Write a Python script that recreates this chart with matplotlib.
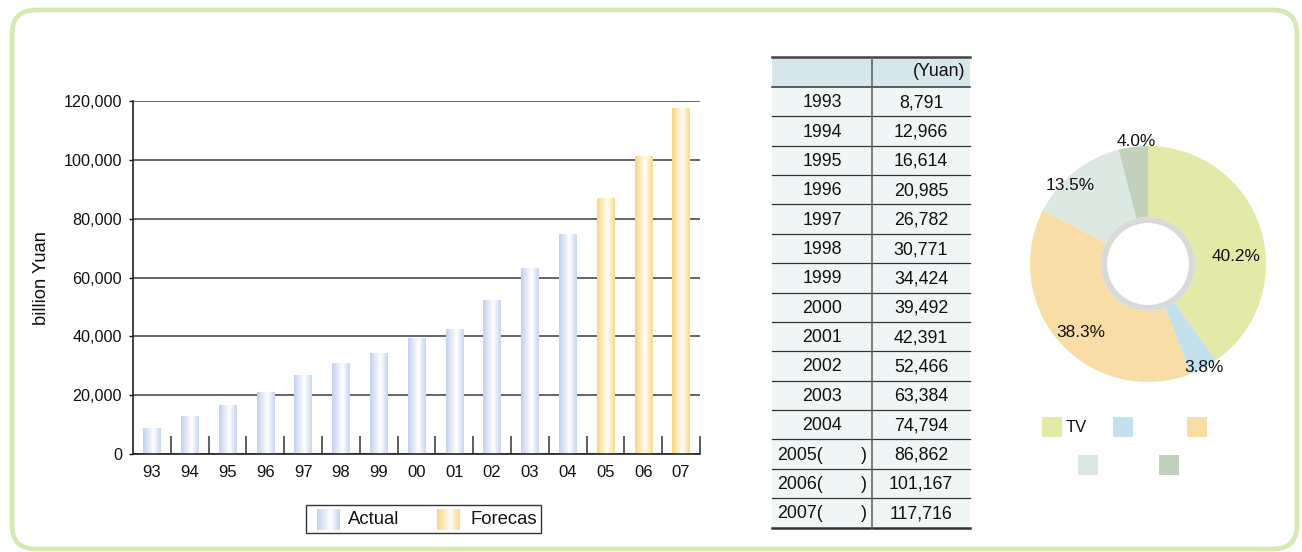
import numpy as np
import matplotlib
matplotlib.use("Agg")
import matplotlib.pyplot as plt
from matplotlib.patches import Rectangle, FancyBboxPatch, Circle
from matplotlib.colors import LinearSegmentedColormap

# ---- data ----
year_labels = ["93", "94", "95", "96", "97", "98", "99", "00",
               "01", "02", "03", "04", "05", "06", "07"]
table_years = ["1993", "1994", "1995", "1996", "1997", "1998", "1999", "2000",
               "2001", "2002", "2003", "2004", "2005(", "2006(", "2007("]
values = [8791, 12966, 16614, 20985, 26782, 30771, 34424, 39492,
          42391, 52466, 63384, 74794, 86862, 101167, 117716]
is_forecast = [False] * 12 + [True] * 3
y_ticks = [0, 20000, 40000, 60000, 80000, 100000, 120000]
legend_labels = ["Actual", "Forecas"]
table_unit = "(Yuan)"

share_pct = [40.2, 3.8, 38.3, 13.5, 4.0]
share_colors = ["#e3e9a7", "#c3e1ed", "#f8dda7", "#dce9e3", "#c0d2bb"]
share_names = ["TV", "", "", "", ""]

# ---- figure ----
W, H = 1302, 552
plt.rcParams["font.family"] = ["Liberation Sans", "DejaVu Sans"]
fig = plt.figure(figsize=(W / 100, H / 100), dpi=100)
fig.patch.set_facecolor("white")

TXT = "#111111"
TABLE_FS = 12.8


def px_axes(x0, y0, x1, y1, **kw):
    """Axes placed by pixel box (origin at top-left)."""
    return fig.add_axes([x0 / W, 1 - y1 / H, (x1 - x0) / W, (y1 - y0) / H], **kw)


# overlay for frame, table and legends
ov = px_axes(0, 0, W, H)
ov.set_zorder(0)
ov.axis("off")

blue_cmap = LinearSegmentedColormap.from_list(
    "actual", [(0, "#c2d0ee"), (0.58, "#ffffff"), (1, "#c7d5f0")])
gold_cmap = LinearSegmentedColormap.from_list(
    "forecast", [(0, "#f8d683"), (0.58, "#fffdf6"), (1, "#f9d98c")])
grad = np.linspace(0, 1, 256).reshape(1, -1)

# rounded frame
ov.add_patch(FancyBboxPatch((12, 10), 1285, 539,
                            boxstyle="round,pad=0,rounding_size=24",
                            fc="none", ec="#d6e9b3", lw=3.4))

# ---- bar chart ----
ax = px_axes(133, 101, 700, 454)
ax.set_zorder(1)
ax.patch.set_alpha(0)
x = np.arange(len(values))
bars = ax.bar(x, values, width=0.46, color="none", lw=0, zorder=2)
for bar, fc in zip(bars, is_forecast):
    x0 = bar.get_x()
    im = ax.imshow(grad, extent=[x0, x0 + bar.get_width(), 0, bar.get_height()],
                   cmap=gold_cmap if fc else blue_cmap, aspect="auto", zorder=2)
    im.set_clip_path(bar)
ax.set_aspect("auto")
ax.set_xlim(-0.5, len(values) - 0.5)
ax.set_ylim(0, 120000)

ax.set_yticks(y_ticks, [f"{v:,}" for v in y_ticks])
ax.yaxis.grid(True, color="#3c3c3c", lw=1.1)
ax.set_axisbelow(True)
ax.set_xticks(x, year_labels)
ax.set_xticks(np.arange(0.5, len(values), 1), minor=True)
ax.tick_params(axis="x", which="major", length=0, pad=8, labelsize=12, colors=TXT)
ax.tick_params(axis="x", which="minor", direction="in", length=13, width=1.1, color="#333")
ax.tick_params(axis="y", length=3, width=1, pad=5, labelsize=11.6, colors=TXT)
for s in ("top", "right"):
    ax.spines[s].set_visible(False)
for s in ("left", "bottom"):
    ax.spines[s].set_color("#222")
    ax.spines[s].set_linewidth(1.2)

ov.text(42, 278, "billion Yuan", rotation=90, ha="center", va="center",
        fontsize=13.2, color=TXT)

# bar legend
ov.add_patch(Rectangle((306, 505), 235, 28, fc="white", ec="#333", lw=1, zorder=1))
for (px0, px1, tx), cmap, lab in zip([(317, 340, 348), (437, 460, 470)],
                                     [blue_cmap, gold_cmap], legend_labels):
    ov.imshow(grad, extent=[px0, px1, 530, 509], cmap=cmap, aspect="auto", zorder=3)
    ov.text(tx, 520, lab, ha="left", va="center", fontsize=13.3, color=TXT, zorder=4)

# ---- table ----
tx0, txm, tx1 = 772, 872, 970
head_top, head_bot = 57, 87
row_h = (527.5 - head_bot) / len(values)
ov.add_patch(Rectangle((tx0, head_top), tx1 - tx0, head_bot - head_top,
                       fc="#d5e7eb", ec="none"))
ov.add_patch(Rectangle((tx0, head_bot), tx1 - tx0, row_h * len(values),
                       fc="#f0f6f6", ec="none"))
ov.text(965, (head_top + head_bot) / 2, table_unit, ha="right", va="center",
        fontsize=TABLE_FS, color=TXT)
for i, (yr, v, fc) in enumerate(zip(table_years, values, is_forecast)):
    top = head_bot + i * row_h
    cy = top + row_h / 2 + 1
    ov.plot([tx0, tx1], [top, top], color="#333", lw=1.1 if i == 0 else 0.9)
    if fc:
        ov.text(777, cy, yr, ha="left", va="center", fontsize=TABLE_FS, color=TXT)
        ov.text(867, cy, ")", ha="right", va="center", fontsize=TABLE_FS, color=TXT)
    else:
        ov.text((tx0 + txm) / 2, cy, yr, ha="center", va="center",
                fontsize=TABLE_FS, color=TXT)
    ov.text(921, cy, f"{v:,}", ha="center", va="center", fontsize=TABLE_FS, color=TXT)
bottom = head_bot + row_h * len(values)
ov.plot([tx0, tx1], [head_top, head_top], color="#444", lw=1.8)
ov.plot([tx0, tx1], [bottom, bottom], color="#333", lw=1.8)
ov.plot([txm, txm], [head_top, bottom], color="#666", lw=1.2)

# ---- donut ----
cxp, cyp, R = 1148, 264, 118
dax = px_axes(cxp - 140, cyp - 140, cxp + 140, cyp + 140)
dax.set_xlim(-140, 140)
dax.set_ylim(-140, 140)
dax.axis("off")
wedges, _ = dax.pie(share_pct, colors=share_colors, radius=R, startangle=90,
                    counterclock=False, center=(0, 0),
                    wedgeprops=dict(width=R - 47, lw=0))
dax.add_patch(Circle((0, 0), 47, fc="#d9d9d9", ec="none"))
dax.add_patch(Circle((0, 0), 41, fc="white", ec="none"))
dax.set_xlim(-140, 140)
dax.set_ylim(-140, 140)

label_shift = [-12.4, 0.3, 3.1, 6.0, -1.5]
label_r = [88, 118, 96, 111, 123]
for w, pct, dth, r in zip(wedges, share_pct, label_shift, label_r):
    ang = np.deg2rad((w.theta1 + w.theta2) / 2 + dth)
    dax.text(r * np.cos(ang), r * np.sin(ang), f"{pct:.1f}%",
             ha="center", va="center", fontsize=12.4, color=TXT)

# donut legend
sq_pos = [(1042, 417), (1113, 417), (1187, 417), (1078, 455), (1159, 455)]
for (sx, sy), c, name in zip(sq_pos, share_colors, share_names):
    ov.add_patch(Rectangle((sx, sy), 20, 20, fc=c, ec="none"))
    if name:
        ov.text(sx + 24, sy + 11, name, ha="left", va="center",
                fontsize=12, color=TXT)

ov.set_aspect("auto")
ov.set_xlim(0, W)
ov.set_ylim(H, 0)

fig.savefig("out.png", dpi=100)
